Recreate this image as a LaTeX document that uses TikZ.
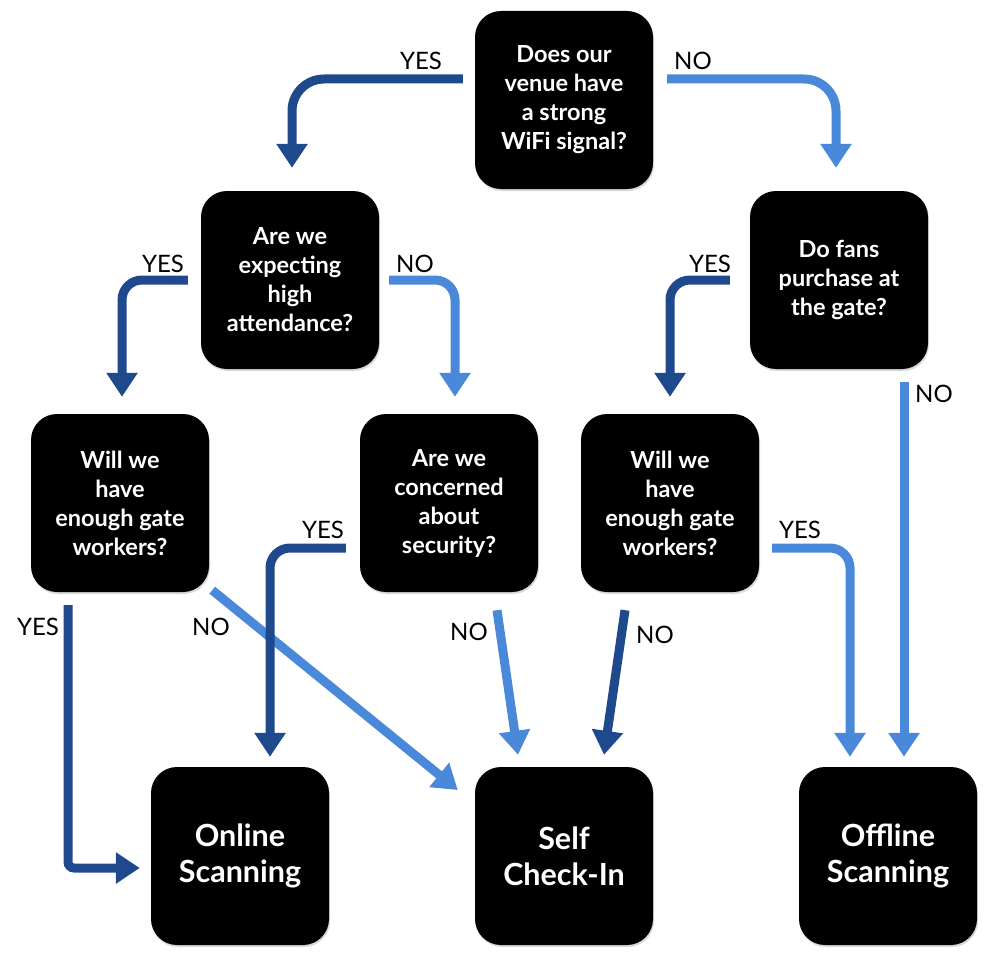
\documentclass[tikz,border=0pt]{standalone}
\usepackage{fontspec}
\setmainfont{Lato}
\usetikzlibrary{arrows.meta,shadows,calc}
\definecolor{dkblue}{RGB}{30,73,140}
\definecolor{ltblue}{RGB}{74,137,218}
\begin{document}
\begin{tikzpicture}[x=1pt,y=-1pt,
  box/.style={rectangle, rounded corners=26pt, fill=black, text=white,
    minimum width=178pt, minimum height=178pt, align=center,
    font=\bfseries\fontsize{23.5}{29}\selectfont,
    execute at begin node={\rule{0pt}{21.5pt}},
    drop shadow={opacity=0.3, shadow xshift=1pt, shadow yshift=-2pt}},
  endbox/.style={box, font=\bfseries\fontsize{30.5}{36}\selectfont,
    execute at begin node={\rule{0pt}{31pt}}},
  lbl/.style={font=\fontsize{24}{26}\selectfont, inner sep=0pt},
  arr/.style={line width=9pt, -{Triangle[width=30pt,length=24pt]}},
  dk/.style={arr, draw=dkblue},
  lt/.style={arr, draw=ltblue}]
\useasboundingbox (0,0) rectangle (1000,960);

\node[box] (q1) at (564,100) {Does our\\venue have\\a strong\\WiFi signal?};
\node[box] (q2) at (290,280) {Are we\\expecting\\high\\attendance?};
\node[box] (q3) at (839,280) {Do fans\\purchase at\\the gate?};
\node[box] (q4) at (120,503) {Will we\\have\\enough gate\\workers?};
\node[box] (q5) at (449,503) {Are we\\concerned\\about\\security?};
\node[box] (q6) at (670,503) {Will we\\have\\enough gate\\workers?};
\node[endbox] (r1) at (240,856) {Online\\Scanning};
\node[endbox] (r2) at (564,856) {Self\\Check-In};
\node[endbox] (r3) at (888,856) {Offline\\Scanning};

% arrows
\draw[dk, rounded corners=32pt] ($(q1.west)+(-12,-21)$) -| ($(q2.north)+(2,-23)$);
\draw[lt, rounded corners=32pt] ($(q1.east)+(14,-21)$) -| ($(q3.north)+(-3,-23)$);
\draw[dk, rounded corners=20pt] ($(q2.west)+(-13,0)$) -| ($(q4.north)+(2,-17)$);
\draw[lt, rounded corners=20pt] ($(q2.east)+(10,0)$) -| ($(q5.north)+(6,-17)$);
\draw[dk, rounded corners=20pt] ($(q3.west)+(-20,0)$) -| ($(q6.north)+(0,-17)$);
\draw[lt] ($(q3.south)+(65,13)$) -- ($(r3.north)+(16,-10)$);
\draw[dk, rounded corners=6pt] ($(q4.south)+(-52,13)$) |- ($(r1.west)+(-11,12)$);
\draw[lt] ($(q4.south east)+(3,-2)$) -- ($(r2.west)+(-17,-66)$);
\draw[dk, rounded corners=20pt] ($(q5.west)+(-14,45)$) -| ($(r1.north)+(30,-10)$);
\draw[lt] ($(q5.south)+(48,18)$) -- ($(r2.north)+(-46,-12)$);
\draw[dk] ($(q6.south)+(-45,18)$) -- ($(r2.north)+(40,-12)$);
\draw[lt, rounded corners=20pt] ($(q6.east)+(13,45)$) -| ($(r3.north)+(-38,-10)$);

% labels
\node[lbl] (l1) at (421,61) {YES};
\node[lbl] (l2) at (693,61) {NO};
\node[lbl] (l3) at (163,264) {YES};
\node[lbl] (l4) at (415,264) {NO};
\node[lbl] (l5) at (710,264) {YES};
\node[lbl] (l6) at (934,394) {NO};
\node[lbl] (l7) at (38,627) {YES};
\node[lbl] (l8) at (211,627) {NO};
\node[lbl] (l9) at (323,530) {YES};
\node[lbl] (l10) at (469,632) {NO};
\node[lbl] (l11) at (655,635) {NO};
\node[lbl] (l12) at (800,530) {YES};
\end{tikzpicture}
\end{document}
